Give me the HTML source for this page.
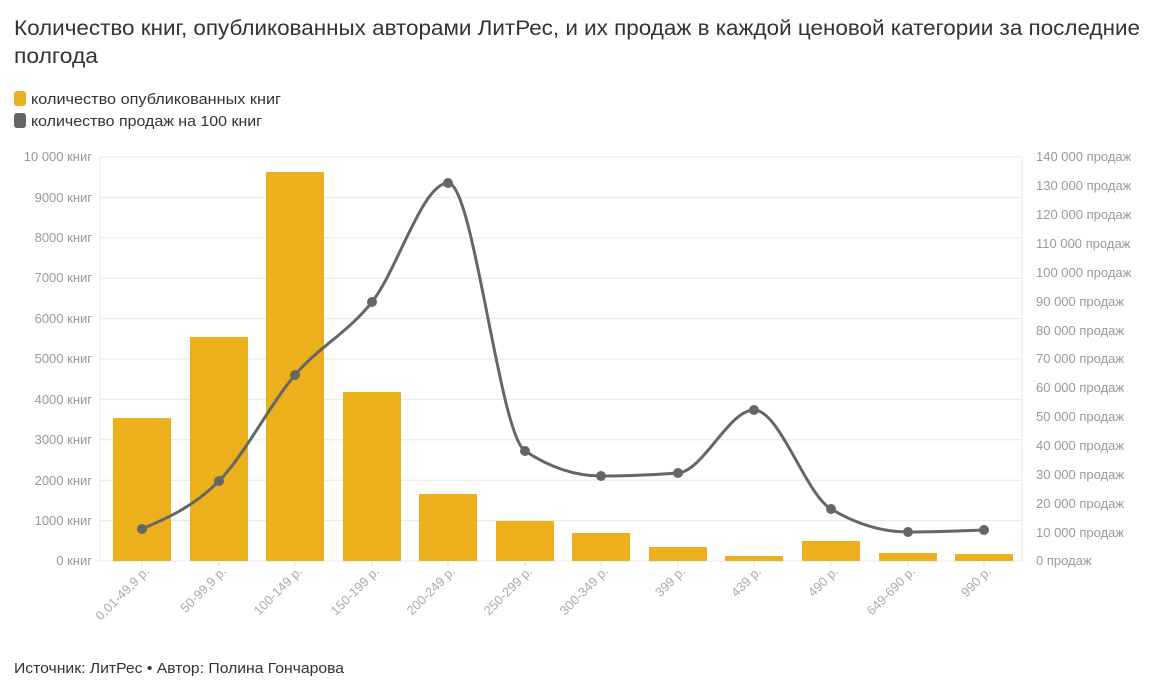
<!DOCTYPE html>
<html><head><meta charset="utf-8"><style>
body{margin:0;background:#fff;width:1170px;height:686px;overflow:hidden;font-family:"Liberation Sans","DejaVu Sans",sans-serif;}
</style></head><body>
<svg width="1170" height="686" xmlns="http://www.w3.org/2000/svg" font-family="Liberation Sans, DejaVu Sans, sans-serif">
<text x="14" y="35" font-size="21" fill="#333" textLength="1126" lengthAdjust="spacingAndGlyphs">Количество книг, опубликованных авторами ЛитРес, и их продаж в каждой ценовой категории за последние</text>
<text x="14" y="63" font-size="21" fill="#333" textLength="84" lengthAdjust="spacingAndGlyphs">полгода</text>
<rect x="14" y="91" width="12" height="15" rx="3" fill="#ebb01b"/>
<text x="31" y="104" font-size="14.5" fill="#333" textLength="250" lengthAdjust="spacingAndGlyphs">количество опубликованных книг</text>
<rect x="14" y="113" width="12" height="15" rx="3" fill="#666"/>
<text x="31" y="126" font-size="14.5" fill="#333" textLength="231" lengthAdjust="spacingAndGlyphs">количество продаж на 100 книг</text>
<g stroke="#e8e8e8" stroke-width="1">
<line x1="100" x2="1022" y1="157" y2="157"/><line x1="100" x2="1022" y1="197.4" y2="197.4"/><line x1="100" x2="1022" y1="237.8" y2="237.8"/><line x1="100" x2="1022" y1="278.2" y2="278.2"/><line x1="100" x2="1022" y1="318.6" y2="318.6"/><line x1="100" x2="1022" y1="359" y2="359"/><line x1="100" x2="1022" y1="399.4" y2="399.4"/><line x1="100" x2="1022" y1="439.8" y2="439.8"/><line x1="100" x2="1022" y1="480.2" y2="480.2"/><line x1="100" x2="1022" y1="520.6" y2="520.6"/><line x1="96" x2="1022" y1="561" y2="561"/>
<line x1="100" x2="100" y1="157" y2="561"/><line x1="1022" x2="1022" y1="157" y2="561"/>
</g>
<g font-size="13" fill="#999" text-anchor="end">
<text x="92" y="161">10 000 книг</text><text x="92" y="202">9000 книг</text><text x="92" y="242">8000 книг</text><text x="92" y="282">7000 книг</text><text x="92" y="323">6000 книг</text><text x="92" y="363">5000 книг</text><text x="92" y="404">4000 книг</text><text x="92" y="444">3000 книг</text><text x="92" y="485">2000 книг</text><text x="92" y="525">1000 книг</text><text x="92" y="565">0 книг</text>
</g>
<g font-size="13" fill="#999">
<text x="1036" y="161">140 000 продаж</text><text x="1036" y="190">130 000 продаж</text><text x="1036" y="219">120 000 продаж</text><text x="1036" y="248">110 000 продаж</text><text x="1036" y="277">100 000 продаж</text><text x="1036" y="306">90 000 продаж</text><text x="1036" y="335">80 000 продаж</text><text x="1036" y="363">70 000 продаж</text><text x="1036" y="392">60 000 продаж</text><text x="1036" y="421">50 000 продаж</text><text x="1036" y="450">40 000 продаж</text><text x="1036" y="479">30 000 продаж</text><text x="1036" y="508">20 000 продаж</text><text x="1036" y="537">10 000 продаж</text><text x="1036" y="565">0 продаж</text>
</g>
<g fill="#ebb01b">
<rect x="113" y="418" width="58" height="143"/><rect x="190" y="337" width="58" height="224"/><rect x="266" y="172" width="58" height="389"/><rect x="343" y="392" width="58" height="169"/><rect x="419" y="494" width="58" height="67"/><rect x="496" y="521" width="58" height="40"/><rect x="572" y="533" width="58" height="28"/><rect x="649" y="547" width="58" height="14"/><rect x="725" y="556" width="58" height="5"/><rect x="802" y="541" width="58" height="20"/><rect x="879" y="553" width="58" height="8"/><rect x="955" y="554" width="58" height="7"/>
</g>
<g stroke="#ddd"><line x1="142" x2="142" y1="561" y2="566"/><line x1="219" x2="219" y1="561" y2="566"/><line x1="295" x2="295" y1="561" y2="566"/><line x1="372" x2="372" y1="561" y2="566"/><line x1="448" x2="448" y1="561" y2="566"/><line x1="525" x2="525" y1="561" y2="566"/><line x1="601" x2="601" y1="561" y2="566"/><line x1="678" x2="678" y1="561" y2="566"/><line x1="754" x2="754" y1="561" y2="566"/><line x1="831" x2="831" y1="561" y2="566"/><line x1="908" x2="908" y1="561" y2="566"/><line x1="984" x2="984" y1="561" y2="566"/></g>
<path d="M142,529 C167.5,518 193.5,506.7 219,481 C244.3,455.3 269.7,404.8 295,375 C320.7,345.2 346.3,334.1 372,302 C397.3,270 422.7,183 448,183 C473.7,183 499.3,434.2 525,451 C550.3,467.7 575.7,476 601,476 C626.7,476 652.3,475 678,473 C703.3,471 728.7,410 754,410 C779.7,410 805.3,493.7 831,509 C856.7,524.3 882.3,532 908,532 C933.3,532 958.7,531 984,530" fill="none" stroke="#666" stroke-width="3"/>
<g fill="#666">
<circle cx="142" cy="529" r="5"/><circle cx="219" cy="481" r="5"/><circle cx="295" cy="375" r="5"/><circle cx="372" cy="302" r="5"/><circle cx="448" cy="183" r="5"/><circle cx="525" cy="451" r="5"/><circle cx="601" cy="476" r="5"/><circle cx="678" cy="473" r="5"/><circle cx="754" cy="410" r="5"/><circle cx="831" cy="509" r="5"/><circle cx="908" cy="532" r="5"/><circle cx="984" cy="530" r="5"/>
</g>
<g font-size="13" fill="#aaa" text-anchor="end">
<text transform="translate(150,572) rotate(-45)">0,01-49,9 р.</text>
<text transform="translate(227,572) rotate(-45)">50-99,9 р.</text>
<text transform="translate(303,572) rotate(-45)">100-149 р.</text>
<text transform="translate(380,572) rotate(-45)">150-199 р.</text>
<text transform="translate(456,572) rotate(-45)">200-249 р.</text>
<text transform="translate(533,572) rotate(-45)">250-299 р.</text>
<text transform="translate(609,572) rotate(-45)">300-349 р.</text>
<text transform="translate(686,572) rotate(-45)">399 р.</text>
<text transform="translate(762,572) rotate(-45)">439 р.</text>
<text transform="translate(839,572) rotate(-45)">490 р.</text>
<text transform="translate(916,572) rotate(-45)">649-690 р.</text>
<text transform="translate(992,572) rotate(-45)">990 р.</text>
</g>
<text x="14" y="673" font-size="14.5" fill="#333" textLength="330" lengthAdjust="spacingAndGlyphs">Источник: ЛитРес • Автор: Полина Гончарова</text>
</svg>
</body></html>
